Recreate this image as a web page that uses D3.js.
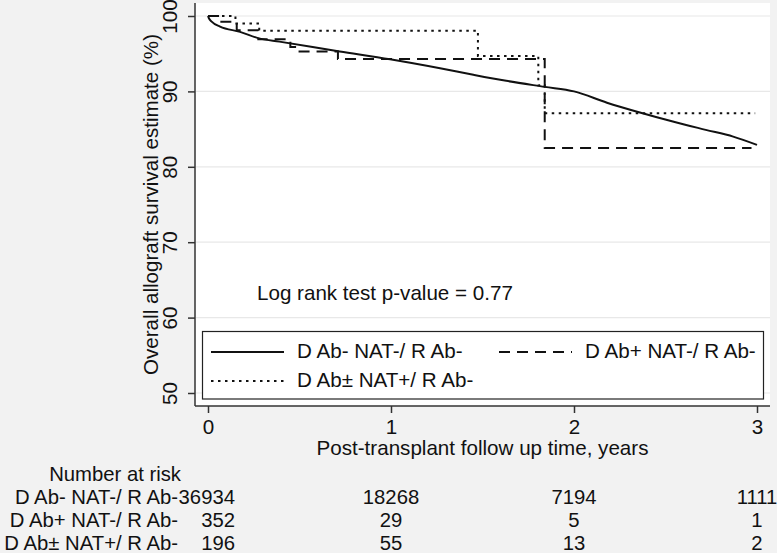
<!DOCTYPE html>
<html>
<head>
<meta charset="utf-8">
<script src="https://cdn.jsdelivr.net/npm/d3@7"></script>
<style>
    body { margin: 0; background: #f2f2f2; }
    svg { display: block; font-family: "Liberation Sans", Arial, sans-serif; }
    text { fill: #111; }
</style>
</head>
<body>
<svg id="chart"></svg>
<script>
// survival curves (time in years, survival in %)
const solidTime = [0, 0.005, 0.02, 0.066, 0.175, 0.284, 0.39, 0.72, 0.995, 1.268, 1.45, 1.63, 1.84, 2.0, 2.18, 2.36, 2.54, 2.72, 2.87, 3.0];
const solidSurv = [100, 99.7, 99.25, 98.6, 97.9, 97.0, 96.6, 95.3, 94.25, 93.06, 92.2, 91.4, 90.6, 90.0, 88.5, 87.2, 86.0, 84.9, 84.0, 82.9];
const dashTime = [0, 0.055, 0.157, 0.275, 0.45, 0.485, 0.71, 1.84, 2.97];
const dashSurv = [100, 99.25, 98.1, 96.9, 95.9, 95.3, 94.3, 82.5, 82.5];
const dotTime = [0, 0.15, 0.28, 1.475, 1.805, 1.84, 2.99];
const dotSurv = [100, 99.0, 98.05, 94.7, 90.8, 87.1, 87.1];

const groupLabels = ["D Ab- NAT-/ R Ab-", "D Ab+ NAT-/ R Ab-", "D Ab\u00b1 NAT+/ R Ab-"];
const xTicks = [0, 1, 2, 3];
const yTicks = [50, 60, 70, 80, 90, 100];
const riskTimes = [0, 1, 2, 3];
const riskSolid = [36934, 18268, 7194, 1111];
const riskDash = [352, 29, 5, 1];
const riskDot = [196, 55, 13, 2];
const pValueText = "Log rank test p-value = 0.77";

const width = 777, height = 553;
const fontSize = 20.6;
const riskFont = 20.3;
const plot = { left: 195, right: 770, top: 3, bottom: 406 };

const svg = d3.select("#chart").attr("width", width).attr("height", height);
svg.append("rect").attr("width", width).attr("height", height).attr("fill", "#f2f2f2");
svg.append("rect")
    .attr("x", plot.left).attr("y", plot.top)
    .attr("width", plot.right - plot.left).attr("height", plot.bottom - plot.top)
    .attr("fill", "#fff");

const xScale = d3.scaleLinear().domain([0, 3]).range([208, 757]);
const yScale = d3.scaleLinear().domain([50, 100]).range([393, 16]);

// grid
svg.append("g").selectAll("line").data(yTicks).join("line")
    .attr("x1", plot.left + 1).attr("x2", plot.right)
    .attr("y1", d => yScale(d)).attr("y2", d => yScale(d))
    .attr("stroke", "#e8e8e8").attr("stroke-width", 1.2);

const styles = [
    { dash: null },
    { dash: "11,7" },
    { dash: "2.5,4.5" }
];
const series = [
    { t: solidTime, s: solidSurv, curve: d3.curveMonotoneX, style: styles[0] },
    { t: dashTime, s: dashSurv, curve: d3.curveStepAfter, style: styles[1] },
    { t: dotTime, s: dotSurv, curve: d3.curveStepAfter, style: styles[2] }
];
series.forEach(sr => {
    const line = d3.line()
        .x(i => xScale(sr.t[i]))
        .y(i => yScale(sr.s[i]))
        .curve(sr.curve);
    svg.append("path")
        .attr("d", line(d3.range(sr.t.length)))
        .attr("fill", "none")
        .attr("stroke", "#111")
        .attr("stroke-width", 2)
        .attr("stroke-dasharray", sr.style.dash);
});

// axes
const xAxis = svg.append("g")
    .attr("transform", `translate(0,${plot.bottom})`)
    .call(d3.axisBottom(xScale).tickValues(xTicks).tickFormat(d3.format("d")).tickSize(7).tickPadding(6));
xAxis.select(".domain").remove();
xAxis.append("line").attr("x1", plot.left).attr("x2", plot.right).attr("stroke", "#333").attr("stroke-width", 1.5);
xAxis.selectAll(".tick line").attr("stroke", "#333").attr("stroke-width", 1.5);
xAxis.selectAll("text").style("font-size", `${fontSize}px`).style("fill", "#111");

const yAxis = svg.append("g")
    .attr("transform", `translate(${plot.left},0)`)
    .call(d3.axisLeft(yScale).tickValues(yTicks).tickSize(7));
yAxis.select(".domain").remove();
yAxis.append("line").attr("y1", plot.top).attr("y2", plot.bottom).attr("stroke", "#333").attr("stroke-width", 1.5);
yAxis.selectAll(".tick line").attr("stroke", "#333").attr("stroke-width", 1.5);
yAxis.selectAll("text")
    .attr("transform", "rotate(-90)")
    .attr("x", 0).attr("y", -18).attr("dy", null)
    .attr("text-anchor", "middle")
    .style("font-size", `${fontSize}px`).style("fill", "#111");

svg.append("text")
    .attr("transform", `translate(158,${(plot.top + plot.bottom) / 2}) rotate(-90)`)
    .attr("text-anchor", "middle")
    .style("font-size", `${fontSize}px`)
    .text("Overall allograft survival estimate (%)");
svg.append("text")
    .attr("x", (xScale(0) + xScale(3)) / 2).attr("y", 455)
    .attr("text-anchor", "middle")
    .style("font-size", `${fontSize}px`)
    .text("Post-transplant follow up time, years");

svg.append("text")
    .attr("x", 257).attr("y", 300)
    .style("font-size", `${fontSize}px`)
    .text(pValueText);

// legend
const legend = svg.append("g");
legend.append("rect")
    .attr("x", 202.5).attr("y", 331.5).attr("width", 561).attr("height", 67.5)
    .attr("fill", "#fff").attr("stroke", "#222").attr("stroke-width", 1.2);
const legendPos = [
    { x: 211, y: 352 },
    { x: 499, y: 352 },
    { x: 211, y: 381 }
];
groupLabels.forEach((lab, i) => {
    const p = legendPos[i];
    legend.append("line")
        .attr("x1", p.x).attr("x2", p.x + 73)
        .attr("y1", p.y).attr("y2", p.y)
        .attr("stroke", "#111").attr("stroke-width", 2)
        .attr("stroke-dasharray", styles[i].dash);
    legend.append("text")
        .attr("x", p.x + 86).attr("y", p.y + 6)
        .style("font-size", `${fontSize}px`)
        .text(lab);
});

// number at risk
const risk = svg.append("g").style("font-size", `${riskFont}px`);
risk.append("text").attr("x", 181).attr("y", 481).attr("text-anchor", "end").text("Number at risk");
[riskSolid, riskDash, riskDot].forEach((row, i) => {
    const y = 504 + i * 23;
    risk.append("text").attr("x", 178).attr("y", y).attr("text-anchor", "end").text(groupLabels[i]);
    row.forEach((n, j) => {
        const t = riskTimes[j];
        risk.append("text")
            .attr("x", t === 0 ? 235 : xScale(t))
            .attr("y", y)
            .attr("text-anchor", t === 0 ? "end" : "middle")
            .text(n);
    });
});
</script>
</body>
</html>
